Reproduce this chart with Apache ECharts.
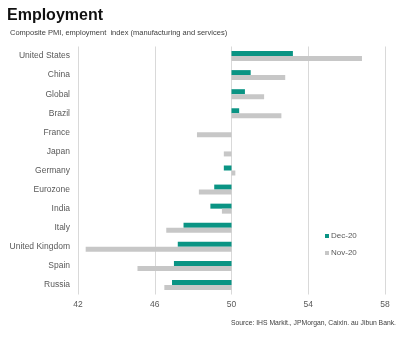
<!DOCTYPE html>
<html>
<head>
<meta charset="utf-8">
<script src="https://cdn.jsdelivr.net/npm/echarts@6/dist/echarts.min.js"></script>
<style>
html,body{margin:0;padding:0;background:#fff;}
#chart{width:406px;height:337px;}
</style>
</head>
<body>
<div id="chart"></div>
<script>
// Composite PMI employment index by economy
const countries = ['United States', 'China', 'Global', 'Brazil', 'France', 'Japan', 'Germany',
  'Eurozone', 'India', 'Italy', 'United Kingdom', 'Spain', 'Russia'];
const dec20 = [53.2, 51.0, 50.7, 50.4, 50.0, 50.0, 49.6, 49.1, 48.9, 47.5, 47.2, 47.0, 46.9];
const nov20 = [56.8, 52.8, 51.7, 52.6, 48.2, 49.6, 50.2, 48.3, 49.5, 46.6, 42.4, 45.1, 46.5];
const xTicks = [42, 46, 50, 54, 58];
// Bars grow out of the 50 expansion/contraction line
const baseline = 50;

const font = '"Liberation Sans", Arial, sans-serif';
const chart = echarts.init(document.getElementById('chart'), null, { renderer: 'canvas' });

chart.setOption({
  animation: false,
  title: [
    { text: 'Employment', left: 7, top: 8, padding: 0,
      textStyle: { fontFamily: font, fontSize: 16, fontWeight: 'bold', color: '#111' } },
    { text: 'Composite PMI, employment  index (manufacturing and services)', left: 10, top: 29, padding: 0,
      textStyle: { fontFamily: font, fontSize: 7.5, fontWeight: 'normal', color: '#404040' } },
    { text: 'Source: IHS Markit., JPMorgan, Caixin. au Jibun Bank.', right: 10, top: 320, padding: 0,
      textStyle: { fontFamily: font, fontSize: 6.8, fontWeight: 'normal', color: '#404040' } }
  ],
  legend: {
    orient: 'vertical', left: 320, top: 227, itemWidth: 4, itemHeight: 4, itemGap: 9,
    icon: 'rect',
    textStyle: { fontFamily: font, fontSize: 8, color: '#595959', padding: [0, 0, 0, -3] },
    data: ['Dec-20', 'Nov-20']
  },
  grid: { left: 78, right: 21, top: 46.5, bottom: 42.5, containLabel: false },
  xAxis: {
    type: 'value',
    min: xTicks[0] - baseline, max: xTicks[xTicks.length - 1] - baseline,
    interval: xTicks[1] - xTicks[0],
    axisLine: { show: false }, axisTick: { show: false },
    axisLabel: { fontFamily: font, fontSize: 8.5, color: '#595959', margin: 6,
      formatter: v => String(v + baseline) },
    splitLine: { show: true, lineStyle: { color: '#d9d9d9', width: 1 } }
  },
  yAxis: {
    type: 'category', data: countries, inverse: true,
    axisLine: { show: false }, axisTick: { show: false },
    axisLabel: { fontFamily: font, fontSize: 8.5, color: '#595959', margin: 8 }
  },
  series: [
    { name: 'Dec-20', type: 'bar', data: dec20.map(v => +(v - baseline).toFixed(2)),
      barWidth: 5, barGap: '0%', itemStyle: { color: '#0a9484' } },
    { name: 'Nov-20', type: 'bar', data: nov20.map(v => +(v - baseline).toFixed(2)),
      barWidth: 5, barGap: '0%', itemStyle: { color: '#c7c7c7' } }
  ]
});
</script>
</body>
</html>
